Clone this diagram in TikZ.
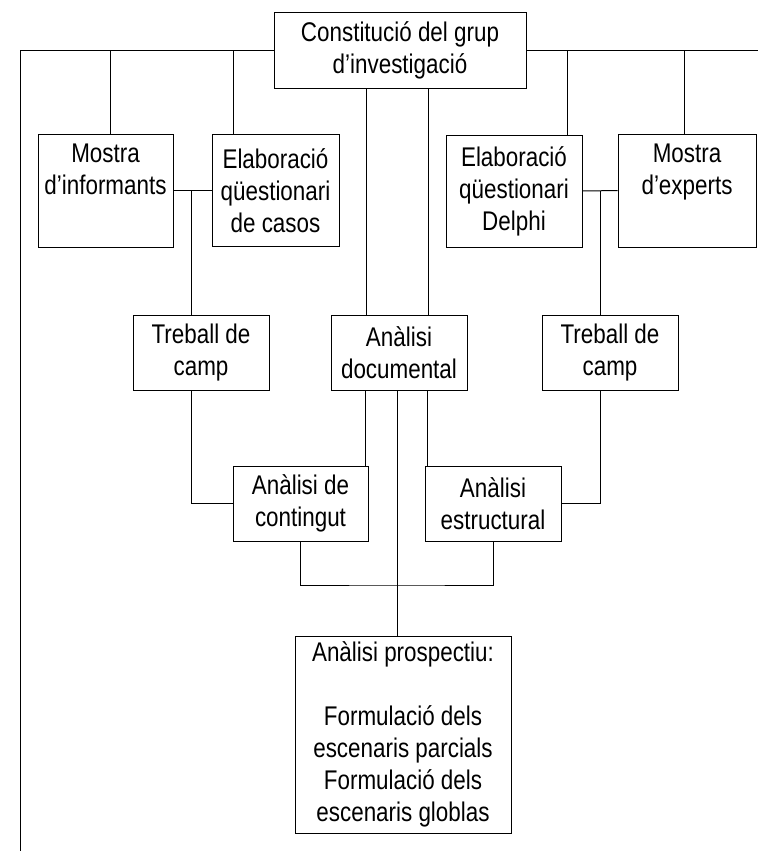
\documentclass[tikz,border=0pt]{standalone}
\usepackage{fontspec}
\setmainfont{Liberation Sans}[FakeStretch=0.83]
\begin{document}
\begin{tikzpicture}[x=0.5pt, y=-0.5pt, line width=0.5pt,
    box/.style={draw, align=center, inner sep=1pt,
      font=\fontsize{13.5}{16}\selectfont}]
    \useasboundingbox (0,0) rectangle (758,851);

    \node[box, minimum width=126pt, minimum height=38pt] (grup) at (400,50) {Constitució del grup\\d’investigació};

    \node[box, minimum width=67.5pt, minimum height=56.5pt] (minf) at (105.5,190.5) {Mostra\\d’informants\\\strut};
    \node[box, minimum width=63.5pt, minimum height=56pt] (qcas) at (275.5,190.5) {Elaboració\\qüestionari\\de casos};
    \node[box, minimum width=68pt, minimum height=56pt] (qdel) at (514,191) {Elaboració\\qüestionari\\Delphi};
    \node[box, minimum width=69pt, minimum height=56.5pt] (mexp) at (687,190.5) {Mostra\\d’experts\\\strut};

    \node[box, minimum width=68pt, minimum height=37.5pt] (campl) at (201,352.5) {Treball de\\camp};
    \node[box, minimum width=68pt, minimum height=37.5pt] (doc) at (399,352.5) {Anàlisi\\documental};
    \node[box, minimum width=68pt, minimum height=37.5pt] (campr) at (610,352.5) {Treball de\\camp};

    \node[box, minimum width=67.5pt, minimum height=37.5pt] (cont) at (300.5,503.5) {Anàlisi de\\contingut};
    \node[box, minimum width=68pt, minimum height=37.5pt] (estr) at (493,503.5) {Anàlisi\\estructural};

    \node[box, minimum width=108pt, minimum height=98.5pt] (prosp) at (403,734.5) {Anàlisi prospectiu:\\[16pt]Formulació dels\\escenaris parcials\\Formulació dels\\escenaris globlas};

    \coordinate (leftend) at (20,851);
    \coordinate (rightend) at (758,50);
    \coordinate (merge) at (397,585);

    % top line
    \draw (grup.west) -| (leftend);
    \draw (grup.east) -- (rightend);
    \draw ([xshift=2.25pt]minf.north) |- (grup.west);
    \draw ([xshift=-21.25pt]qcas.north) |- (grup.west);
    \draw ([xshift=26.5pt]qdel.north) |- (grup.east);
    \draw ([xshift=-1.5pt]mexp.north) |- (grup.east);
    \foreach \s in {-17,14}
      \draw ([xshift=\s pt]grup.south) -- ([xshift=\s pt]grup.south |- doc.north);

    % left branch
    \draw (minf) -- (qcas);
    \draw ([xshift=-5pt]campl.north) -- ([xshift=-5pt]campl.north |- minf.east);
    \draw ([xshift=-5pt]campl.south) |- (cont.west);

    % right branch
    \draw (qdel) -- (mexp);
    \draw ([xshift=-5pt]campr.north) -- ([xshift=-5pt]campr.north |- mexp.west);
    \draw ([xshift=-5pt]campr.south) |- (estr.east);

    % middle
    \draw ([xshift=-17pt]doc.south) -- ([xshift=-17pt]doc.south |- cont.north);
    \draw ([xshift=14pt]doc.south) -- ([xshift=14pt]doc.south |- estr.north);
    \draw (cont.south) |- (merge) -| (estr.south);
    \draw (doc.south -| merge) -- (prosp.north -| merge);
  \end{tikzpicture}
\end{document}
